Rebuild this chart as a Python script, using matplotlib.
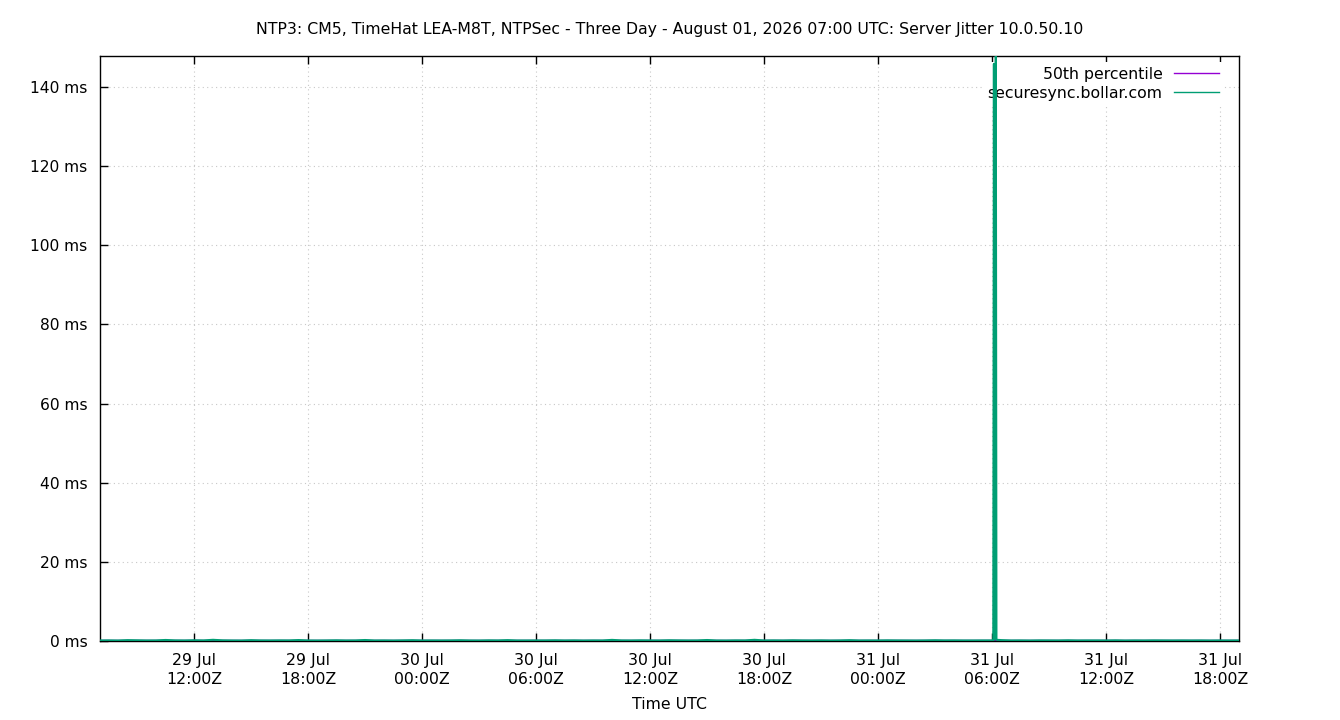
import matplotlib
matplotlib.use("Agg")
import matplotlib.pyplot as plt
import matplotlib.dates as mdates
import matplotlib.ticker as mticker
import pandas as pd

title = "NTP3: CM5, TimeHat LEA-M8T, NTPSec - Three Day - August 01, 2026 07:00 UTC: Server Jitter 10.0.50.10"

# half-hourly jitter readings (ms), 29 Jul 07:00 .. 31 Jul 19:00
jitter_ms = [
    0.14, 0.16, 0.13, 0.22, 0.18, 0.14, 0.15, 0.26, 0.16, 0.14,
    0.19, 0.15, 0.30, 0.17, 0.14, 0.13, 0.21, 0.15, 0.14, 0.16,
    0.15, 0.24, 0.14, 0.13, 0.15, 0.18, 0.14, 0.15, 0.25, 0.14,
    0.15, 0.13, 0.16, 0.20, 0.14, 0.15, 0.14, 0.15, 0.19, 0.14,
    0.13, 0.17, 0.15, 0.22, 0.14, 0.14, 0.15, 0.15, 0.18, 0.14,
    0.16, 0.13, 0.15, 0.14, 0.28, 0.15, 0.14, 0.17, 0.15, 0.14,
    0.19, 0.16, 0.14, 0.15, 0.25, 0.14, 0.13, 0.16, 0.15, 0.30,
    0.14, 0.16, 0.14, 0.18, 0.15, 0.14, 0.16, 0.13, 0.15, 0.21,
    0.14, 0.15, 0.14, 0.17, 0.15, 0.14, 0.13, 0.15, 0.19, 0.15,
    0.16, 0.14, 0.14, 0.15, 0.15, 0.22, 0.14, 0.15, 0.13, 0.16,
    0.15, 0.14, 0.18, 0.14, 0.15, 0.15, 0.14, 0.17, 0.13, 0.15,
    0.14, 0.16, 0.15, 0.14, 0.15, 0.14, 0.15, 0.13, 0.15, 0.14,
    0.15,
]
sample_times = pd.date_range("2026-07-29 07:00", periods=len(jitter_ms), freq="30min")

# the jitter spike around 31 Jul 06:10
spike_times = pd.to_datetime([
    "2026-07-31 06:04", "2026-07-31 06:06", "2026-07-31 06:08",
    "2026-07-31 06:12", "2026-07-31 06:14",
])
spike_ms = [0.2, 145.8, 0.4, 150.0, 0.3]

p50_ms = 0.14

series = pd.Series(jitter_ms, index=sample_times)
series = pd.concat([series, pd.Series(spike_ms, index=spike_times)]).sort_index()

fig = plt.figure(figsize=(13.4, 7.2), dpi=100)
ax = fig.add_axes([100 / 1340, 1 - 641 / 720, 1139 / 1340, 585 / 720])

ax.plot([sample_times[0], sample_times[-1]], [p50_ms, p50_ms], color="#9400d3",
        lw=1, label="50th percentile", zorder=2)
ax.plot(series.index, series.values, color="#009e73", lw=1.5,
        label="securesync.bollar.com", zorder=3)

ax.set_xlim(pd.Timestamp("2026-07-29 07:03"), pd.Timestamp("2026-07-31 19:00"))
ax.set_ylim(0, 147.8)

ax.yaxis.set_major_locator(mticker.MultipleLocator(20))
ax.yaxis.set_major_formatter(mticker.FuncFormatter(lambda v, p: f"{v:.0f} ms"))
ax.xaxis.set_major_locator(mdates.HourLocator(byhour=[0, 6, 12, 18]))
ax.xaxis.set_major_formatter(mdates.DateFormatter("%d %b\n%H:%MZ"))

ax.tick_params(direction="in", length=5.5, width=1, top=True, right=False)
ax.tick_params(axis="y", labelsize=11.2, pad=9)
ax.tick_params(axis="x", labelsize=11.3, pad=9)
for lbl in ax.get_xticklabels():
    lbl.set_linespacing(1.3)
for s in ax.spines.values():
    s.set_linewidth(1)

ax.set_axisbelow(True)
ax.grid(True, color="#c8c8c8", linestyle=(0, (1, 3)), lw=0.8)

ax.set_title(title, fontsize=11.3, pad=16)
ax.set_xlabel("Time UTC", fontsize=11.3, labelpad=7)

leg = ax.legend(loc="upper right", bbox_to_anchor=(0.9867, 0.990),
                markerfirst=False, frameon=True, fontsize=11.3,
                handlelength=2.9, borderaxespad=0, labelspacing=0.27,
                handletextpad=0.7, borderpad=0.3)
leg.get_frame().set_edgecolor("none")
leg.get_frame().set_facecolor("white")
leg.get_frame().set_alpha(1)
leg.set_zorder(1)
for h in leg.get_lines():
    h.set_linewidth(1)

fig.savefig("out.png", dpi=100)
